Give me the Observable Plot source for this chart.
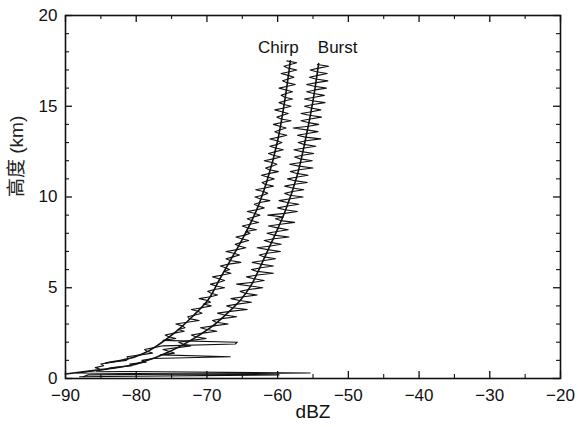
<!DOCTYPE html>
<html>
<head>
<meta charset="utf-8">
<script src="https://cdn.jsdelivr.net/npm/d3@7"></script>
<script src="https://cdn.jsdelivr.net/npm/@observablehq/plot@0.6"></script>
<style>
  html, body { margin: 0; padding: 0; background: #fff; }
  #chart { width: 578px; height: 427px; }
</style>
</head>
<body>
<div id="chart"></div>
<script>
// Range gate heights (km) of the measured reflectivity profiles
const gateHeights = [
  0.1,0.2,0.3,0.4,0.5,0.6,0.7,0.8,0.9,1.0,
  1.1,1.2,1.3,1.4,1.5,1.6,1.7,1.8,1.9,2.0,
  2.1,2.2,2.3,2.4,2.5,2.6,2.7,2.8,2.9,3.0,
  3.1,3.2,3.3,3.4,3.5,3.6,3.7,3.8,3.9,4.0,
  4.1,4.2,4.3,4.4,4.5,4.6,4.7,4.8,4.9,5.0,
  5.1,5.2,5.3,5.4,5.5,5.6,5.7,5.8,5.9,6.0,
  6.1,6.2,6.3,6.4,6.5,6.6,6.7,6.8,6.9,7.0,
  7.1,7.2,7.3,7.4,7.5,7.6,7.7,7.8,7.9,8.0,
  8.1,8.2,8.3,8.4,8.5,8.6,8.7,8.8,8.9,9.0,
  9.1,9.2,9.3,9.4,9.5,9.6,9.7,9.8,9.9,10.0,
  10.1,10.2,10.3,10.4,10.5,10.6,10.7,10.8,10.9,11.0,
  11.1,11.2,11.3,11.4,11.5,11.6,11.7,11.8,11.9,12.0,
  12.1,12.2,12.3,12.4,12.5,12.6,12.7,12.8,12.9,13.0,
  13.1,13.2,13.3,13.4,13.5,13.6,13.7,13.8,13.9,14.0,
  14.1,14.2,14.3,14.4,14.5,14.6,14.7,14.8,14.9,15.0,
  15.1,15.2,15.3,15.4,15.5,15.6,15.7,15.8,15.9,16.0,
  16.1,16.2,16.3,16.4,16.5,16.6,16.7,16.8,16.9,17.0,
  17.1,17.2,17.3,17.4,17.5
];

// Measured noise-level profile, chirp mode (dBZ per gate)
const chirpDbz = [
  -87.5,-86.8,-55.4,-85.6,-85.0,-85.8,-84.6,-85.0,-83.5,-81.4,
  -81.1,-81.3,-79.4,-77.7,-78.5,-78.8,-77.5,-76.2,-66.0,-65.7,
  -76.2,-74.4,-75.4,-75.9,-74.6,-73.2,-74.1,-73.1,-73.5,-74.4,
  -72.8,-71.1,-72.5,-72.7,-71.7,-70.7,-71.3,-72.2,-70.7,-69.4,
  -70.5,-69.5,-69.9,-71.1,-69.5,-68.5,-69.4,-69.9,-68.9,-67.5,
  -68.7,-69.5,-68.3,-67.5,-68.3,-69.2,-67.8,-66.6,-67.6,-66.8,
  -67.4,-68.1,-66.9,-65.2,-66.7,-67.3,-66.3,-65.4,-66.2,-67.3,
  -65.7,-64.5,-65.5,-66.0,-65.1,-64.1,-65.1,-65.9,-64.6,-63.9,
  -64.5,-63.0,-64.3,-65.0,-63.9,-62.7,-63.7,-64.3,-63.4,-62.5,
  -63.3,-64.3,-62.9,-61.9,-62.8,-63.3,-62.5,-61.1,-62.5,-63.2,
  -62.1,-61.4,-62.0,-63.1,-61.8,-60.6,-61.8,-62.2,-61.4,-60.5,
  -61.4,-62.3,-61.1,-59.9,-61.2,-61.7,-60.8,-60.1,-60.8,-61.9,
  -60.6,-59.6,-60.6,-61.3,-60.3,-59.2,-60.3,-61.1,-60.0,-59.4,
  -60.1,-61.1,-59.8,-58.7,-59.8,-60.4,-59.6,-58.8,-59.7,-60.6,
  -59.4,-58.1,-59.5,-60.1,-59.3,-58.5,-59.4,-60.4,-59.1,-58.1,
  -59.1,-59.8,-58.9,-57.9,-59.0,-59.5,-58.8,-57.9,-58.8,-59.8,
  -58.6,-57.5,-58.7,-59.3,-58.5,-57.7,-58.5,-59.5,-58.3,-57.3,
  -58.5,-59.1,-58.2,-57.3,-58.7
];

// Measured noise-level profile, burst mode (dBZ per gate)
const burstDbz = [
  -88.0,-59.8,-88.4,-86.6,-84.4,-83.4,-80.6,-80.9,-78.6,-79.2,
  -77.6,-66.7,-76.6,-74.6,-75.4,-76.2,-74.2,-72.3,-73.4,-74.0,
  -72.2,-70.1,-71.6,-72.2,-70.6,-68.6,-70.0,-70.9,-69.1,-67.0,
  -68.7,-69.2,-67.9,-65.8,-67.5,-68.5,-66.7,-64.3,-66.4,-67.2,
  -65.7,-63.7,-65.4,-66.6,-64.8,-62.9,-64.6,-65.3,-64.1,-62.1,
  -63.9,-65.8,-63.4,-61.9,-63.4,-64.4,-62.9,-60.6,-62.9,-63.7,
  -62.4,-60.6,-62.4,-63.6,-61.9,-60.3,-61.9,-62.6,-61.5,-59.6,
  -61.4,-62.9,-61.0,-59.5,-61.0,-61.9,-60.5,-58.4,-60.5,-61.5,
  -60.1,-58.5,-60.0,-61.3,-59.6,-57.6,-59.6,-60.3,-59.2,-61.4,
  -59.0,-57.2,-59.0,-60.0,-58.6,-57.0,-58.6,-59.8,-58.2,-56.4,
  -58.3,-59.0,-57.9,-56.3,-57.9,-59.0,-57.6,-55.8,-57.6,-58.6,
  -57.2,-55.7,-57.3,-58.2,-57.0,-55.0,-57.0,-58.3,-56.7,-55.1,
  -56.8,-57.6,-56.5,-54.9,-56.6,-57.7,-56.2,-54.6,-56.3,-57.1,
  -56.0,-53.9,-56.1,-57.2,-55.8,-54.3,-55.9,-57.8,-55.6,-54.2,
  -55.7,-56.7,-55.4,-53.8,-55.5,-56.7,-55.2,-53.9,-55.3,-56.2,
  -55.0,-53.3,-55.1,-56.2,-54.8,-53.4,-54.9,-55.9,-54.7,-53.1,
  -54.8,-55.9,-54.5,-52.9,-54.6,-55.5,-54.3,-53.0,-54.5,-55.4,
  -54.2,-52.8,-54.4
];

// Theoretical noise-level curves
const chirpFitH   = [0.85, 1.1, 1.38, 1.93, 2.64, 3.47, 4.3, 5.4, 6.5, 7.6, 9.26, 10.9, 13.1, 15.3, 17.5];
const chirpFitDbz = [-84.3, -81.0, -79.0, -76.6, -74.2, -71.9, -69.9, -68.3, -66.7, -65.1, -63.0, -61.5, -60.0, -59.0, -58.2];
const burstFitH   = [0.25, 0.45, 0.6, 0.72, 1.0, 1.43, 2.1, 2.8, 3.6, 4.3, 5.1, 5.95, 7.05, 8.15, 9.26, 11.1, 13.1, 15.3, 17.35];
const burstFitDbz = [-90.0, -85.8, -82.8, -80.9, -78.4, -75.6, -72.3, -69.5, -67.1, -65.3, -63.8, -62.7, -61.4, -60.1, -58.9, -57.3, -56.1, -55.0, -54.2];

const seriesNames = ["Chirp", "Burst"];

// Axis ticks
const xMajor = [-90, -80, -70, -60, -50, -40, -30, -20];
const xMinor = [-85, -75, -65, -55, -45, -35, -25];
const yMajor = [0, 5, 10, 15, 20];
const yMinor = [1, 2, 3, 4, 6, 7, 8, 9, 11, 12, 13, 14, 16, 17, 18, 19];

const toRows = (hs, vs) => vs.map((v, i) => ({h: hs[i], dbz: v}));
const chirp = toRows(gateHeights, chirpDbz);
const burst = toRows(gateHeights, burstDbz);
const chirpFit = toRows(chirpFitH, chirpFitDbz);
const burstFit = toRows(burstFitH, burstFitDbz);

const W = 578, H = 427;
const mL = 65, mR = 18, mT = 15, mB = 49;
const innerW = W - mL - mR, innerH = H - mT - mB;
const ink = "#111";

const chart = Plot.plot({
  width: W,
  height: H,
  marginLeft: mL,
  marginRight: mR,
  marginTop: mT,
  marginBottom: mB,
  style: {fontFamily: "'Liberation Sans', Arial, 'Noto Sans CJK SC', sans-serif", fontSize: "17px", color: ink, background: "#fff"},
  x: {domain: [-90, -20]},
  y: {domain: [0, 20]},
  marks: [
    // measured profiles
    Plot.line(chirp, {x: "dbz", y: "h", stroke: ink, strokeWidth: 1.1}),
    Plot.line(burst, {x: "dbz", y: "h", stroke: ink, strokeWidth: 1.1}),
    // theoretical curves
    Plot.line(chirpFit, {x: "dbz", y: "h", curve: "monotone-y", stroke: ink, strokeWidth: 1.6}),
    Plot.line(burstFit, {x: "dbz", y: "h", curve: "monotone-y", stroke: ink, strokeWidth: 1.6}),
    // curve names at the top of each profile
    Plot.text([chirpFit[chirpFit.length - 1]], {x: "dbz", y: "h", text: () => seriesNames[0], dx: -12, dy: -13, fontSize: 17, fill: ink}),
    Plot.text([burstFit[burstFit.length - 1]], {x: "dbz", y: "h", text: () => seriesNames[1], dx: 19, dy: -16, fontSize: 17, fill: ink}),
    // inward ticks on all four sides
    Plot.ruleX(xMajor, {insetTop: innerH - 7, stroke: ink, strokeWidth: 1.3}),
    Plot.ruleX(xMinor, {insetTop: innerH - 4, stroke: ink, strokeWidth: 1.1}),
    Plot.ruleX(xMajor, {insetBottom: innerH - 7, stroke: ink, strokeWidth: 1.3}),
    Plot.ruleX(xMinor, {insetBottom: innerH - 4, stroke: ink, strokeWidth: 1.1}),
    Plot.ruleY(yMajor, {insetRight: innerW - 7, stroke: ink, strokeWidth: 1.3}),
    Plot.ruleY(yMinor, {insetRight: innerW - 4, stroke: ink, strokeWidth: 1.1}),
    Plot.ruleY(yMajor, {insetLeft: innerW - 7, stroke: ink, strokeWidth: 1.3}),
    Plot.ruleY(yMinor, {insetLeft: innerW - 4, stroke: ink, strokeWidth: 1.1}),
    // tick labels
    Plot.axisX({ticks: xMajor, tickSize: 0, tickPadding: 10, label: null, fontSize: 17}),
    Plot.axisY({ticks: yMajor, tickSize: 0, tickPadding: 8, label: null, fontSize: 17}),
    // axis titles
    Plot.text(["dBZ"], {frameAnchor: "bottom", dy: 39, fontSize: 19, fill: ink}),
    Plot.text(["高度 (km)"], {frameAnchor: "left", dx: -49, rotate: -90, fontSize: 19, fill: "#222"}),
    Plot.frame({stroke: ink, strokeWidth: 1.6})
  ]
});

document.getElementById("chart").appendChild(chart);
</script>
</body>
</html>
